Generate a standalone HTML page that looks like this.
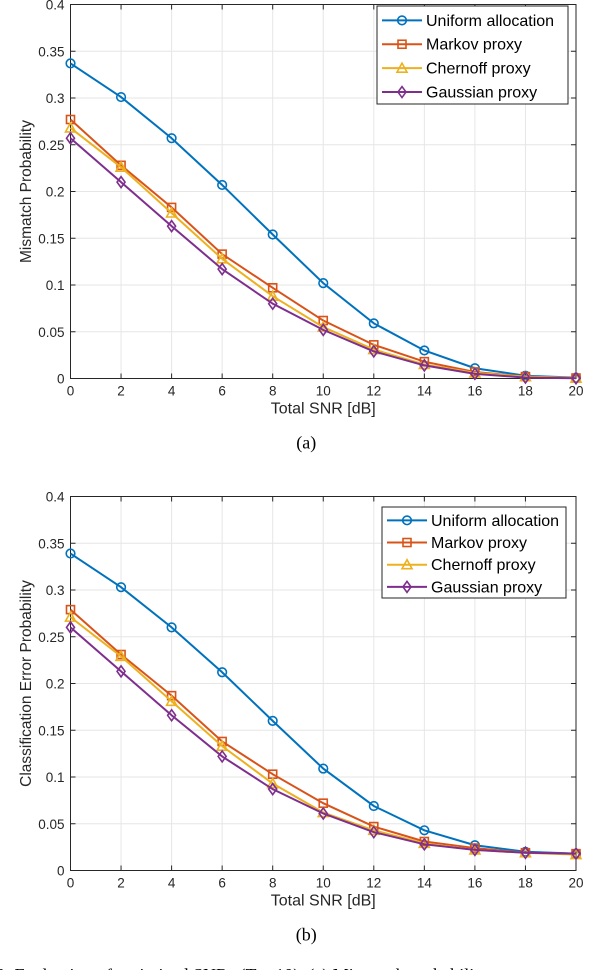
<!DOCTYPE html>
<html><head><meta charset="utf-8"><style>
html,body{margin:0;padding:0;background:#fff;width:608px;height:970px;overflow:hidden}
svg{display:block}
text{font-family:"Liberation Sans",sans-serif}
</style></head><body>
<svg id="svg" width="608" height="970" viewBox="0 0 608 970" xmlns="http://www.w3.org/2000/svg"></svg>
<script>
const snr = [0,2,4,6,8,10,12,14,16,18,20];
const xTicks = [0,2,4,6,8,10,12,14,16,18,20];
const yTicks = [0,0.05,0.1,0.15,0.2,0.25,0.3,0.35,0.4];
const yTickLabels = ["0","0.05","0.1","0.15","0.2","0.25","0.3","0.35","0.4"];
const seriesNames = ["Uniform allocation","Markov proxy","Chernoff proxy","Gaussian proxy"];
const aUniform = [.337,.301,.257,.207,.154,.102,.059,.030,.011,.003,.001];
const aMarkov = [.277,.228,.183,.133,.097,.062,.036,.018,.007,.002,.0005];
const aChernoff = [.268,.226,.177,.128,.088,.055,.031,.015,.006,.002,.0005];
const aGaussian = [.257,.210,.163,.117,.080,.052,.029,.014,.005,.001,.0003];
const bUniform = [.339,.303,.260,.212,.160,.109,.069,.043,.027,.020,.018];
const bMarkov = [.279,.231,.187,.138,.103,.072,.047,.031,.024,.019,.018];
const bChernoff = [.271,.229,.181,.133,.093,.062,.043,.029,.022,.019,.017];
const bGaussian = [.260,.213,.166,.122,.087,.061,.041,.028,.022,.019,.018];

const NS="http://www.w3.org/2000/svg";
const svg=document.getElementById('svg');
const colors=["#0072BD","#D95319","#EDB120","#7E2F8E"];
const markers=["circle","square","triangle","diamond"];
function el(tag,attrs,parent){const e=document.createElementNS(NS,tag);for(const k in attrs)e.setAttribute(k,attrs[k]);(parent||svg).appendChild(e);return e;}
function marker(type,x,y,c,g){
  if(type==="circle")return el('circle',{cx:x,cy:y,r:4.3,fill:'none',stroke:c,'stroke-width':1.6},g);
  if(type==="square")return el('rect',{x:x-4,y:y-4,width:8,height:8,fill:'none',stroke:c,'stroke-width':1.6},g);
  if(type==="triangle")return el('polygon',{points:`${x},${y-5} ${x-5},${y+4} ${x+5},${y+4}`,fill:'none',stroke:c,'stroke-width':1.6},g);
  return el('polygon',{points:`${x},${y-5.5} ${x-4},${y} ${x},${y+5.5} ${x+4},${y}`,fill:'none',stroke:c,'stroke-width':1.6},g);
}
function plot(id,top,bottom,ylabel,series,legBox,sub){
  const L=70.5,R=576;
  const xs=v=>L+(v/20)*(R-L);
  const ys=v=>bottom-(v/0.4)*(bottom-top);
  const g=el('g',{});
  
  
  xTicks.forEach(t=>{el('line',{x1:xs(t),x2:xs(t),y1:top,y2:bottom,stroke:'#e6e6e6','stroke-width':1},g);});
  yTicks.forEach(t=>{el('line',{x1:L,x2:R,y1:ys(t),y2:ys(t),stroke:'#e6e6e6','stroke-width':1},g);});
  el('rect',{x:L,y:top,width:R-L,height:bottom-top,fill:'none',stroke:'#262626','stroke-width':1},g);
  xTicks.forEach(t=>{
    el('line',{x1:xs(t),x2:xs(t),y1:bottom,y2:bottom-5,stroke:'#262626'},g);
    el('line',{x1:xs(t),x2:xs(t),y1:top,y2:top+5,stroke:'#262626'},g);
    const tx=el('text',{x:xs(t),y:bottom+17,'font-size':13.5,'text-anchor':'middle',fill:'#262626'},g);tx.textContent=t;
    
    
  });
  yTicks.forEach((t,i)=>{
    el('line',{x1:L,x2:L+5,y1:ys(t),y2:ys(t),stroke:'#262626'},g);
    el('line',{x1:R,x2:R-5,y1:ys(t),y2:ys(t),stroke:'#262626'},g);
    const tx=el('text',{x:L-6,y:ys(t)+5,'font-size':13.5,'text-anchor':'end',fill:'#262626'},g);tx.textContent=yTickLabels[i];
    
    
  });
  const xl=el('text',{x:(L+R)/2,y:bottom+35,'font-size':16,'text-anchor':'middle',fill:'#262626'},g);xl.textContent='Total SNR [dB]';
  
  
  const yc=(top+bottom)/2;
  const yl=el('text',{x:31,y:yc,'font-size':15.5,'text-anchor':'middle',fill:'#262626',transform:`rotate(-90 31 ${yc})`},g);yl.textContent=ylabel;
  
  
  series.forEach((s,k)=>{
    const sg=el('g',{},g);
    
    
    el('polyline',{points:s.map((v,i)=>xs(snr[i])+','+ys(v)).join(' '),fill:'none',stroke:colors[k],'stroke-width':2},sg);
    s.forEach((v,i)=>marker(markers[k],xs(snr[i]),ys(v),colors[k],sg));
  });
  const lg=el('g',{},g);
  
  
  el('rect',{x:legBox[0],y:legBox[1],width:legBox[2],height:legBox[3],fill:'#fff',stroke:'#262626','stroke-width':1},lg);
  const step=legBox[3]/4.1;
  seriesNames.forEach((n,k)=>{
    const y=legBox[1]+step*(k+0.6);
    const eg=el('g',{},lg);
    
    
    el('line',{x1:legBox[0]+5,x2:legBox[0]+45,y1:y,y2:y,stroke:colors[k],'stroke-width':2},eg);
    marker(markers[k],legBox[0]+25,y,colors[k],eg);
    const t=el('text',{x:legBox[0]+49,y:y+5.5,'font-size':16,fill:'#000'},eg);t.textContent=n;
  });
  const st=el('text',{x:(L+R)/2-17,y:bottom+70,'font-size':18,'text-anchor':'middle',fill:'#000',style:'font-family:"Liberation Serif",serif'},g);st.textContent=sub;
  
  
}
plot('chart-mismatch',4.5,378.5,'Mismatch Probability',[aUniform,aMarkov,aChernoff,aGaussian],[377,6,191,98],'(a)');
plot('chart-classification',496.5,870.5,'Classification Error Probability',[bUniform,bMarkov,bChernoff,bGaussian],[382,507,184,91],'(b)');
const cap=el('text',{x:-4,y:981,'font-size':18,fill:'#000',style:'font-family:"Liberation Serif",serif'});
cap.textContent='3: Evaluation of optimized SNRs (T = 10). (a) Mismatch probability';


</script>
</body></html>
